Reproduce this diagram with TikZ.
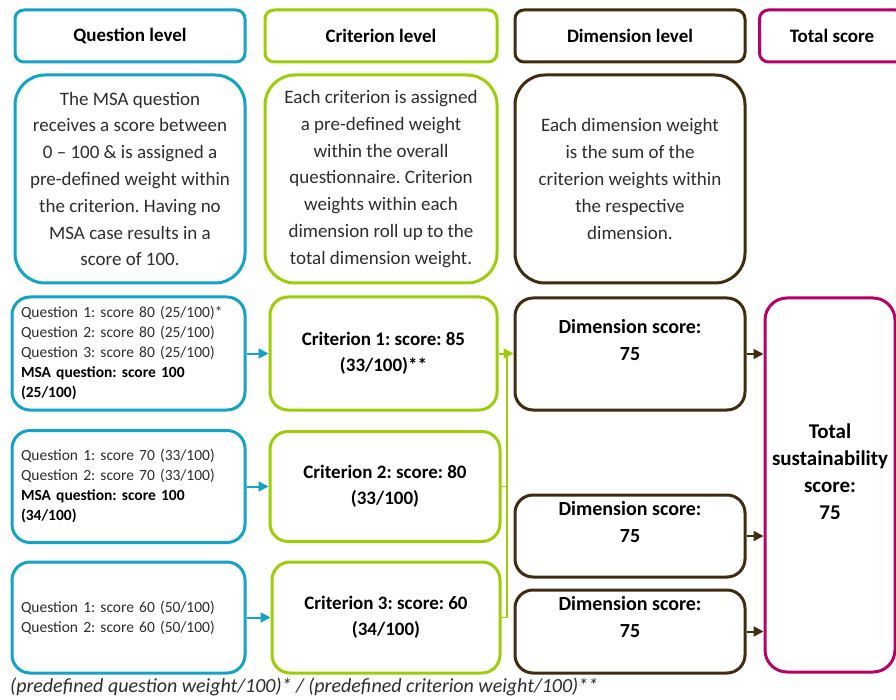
\documentclass[tikz,border=0pt]{standalone}
\usepackage{fontspec}
\setmainfont{Carlito}
\usetikzlibrary{arrows.meta}
\definecolor{qblue}{RGB}{22,162,196}
\definecolor{cgreen}{RGB}{158,204,10}
\definecolor{dbrown}{RGB}{64,44,16}
\definecolor{tmag}{RGB}{180,0,100}
\definecolor{qtext}{RGB}{45,45,45}
\frenchspacing
\begin{document}
\begin{tikzpicture}[x=1pt,y=-1pt,
  hdr/.style={draw, line width=3pt, rounded corners=9pt, inner sep=0pt,
    font=\fontsize{19}{22}\selectfont\bfseries},
  desc/.style={draw, line width=3pt, rounded corners=30pt, inner sep=0pt, align=center,
    font=\fontsize{19}{26.8}\selectfont, text=qtext},
  qbox/.style={draw=qblue, line width=3pt, rounded corners=18pt, inner xsep=9pt, inner ysep=0pt,
    align=left, font=\fontsize{15.5}{20}\selectfont, text=qtext},
  cbox/.style={draw=cgreen, line width=3pt, rounded corners=18pt, inner sep=0pt, align=center,
    font=\fontsize{19}{26.5}\selectfont\bfseries},
  dbox/.style={draw=dbrown, line width=3pt, rounded corners=18pt, inner sep=0pt},
  dtext/.style={align=center, inner sep=0pt, font=\fontsize{20}{27}\selectfont\bfseries},
  qarrow/.style={draw=qblue, line width=2pt, -{Triangle[length=10pt,width=10pt]}},
  carrow/.style={draw=cgreen, line width=2pt, -{Triangle[length=10pt,width=10pt]}},
  gline/.style={draw=cgreen, line width=1.6pt},
  darrow/.style={draw=dbrown, line width=2pt, -{Triangle[length=10pt,width=10pt]}}
]
\useasboundingbox[fill=white] (0,0) rectangle (896,700);

% headers
\node[hdr, draw=qblue, minimum width=230pt, minimum height=52pt] (hq) at (130,36) {Question level};
\node[hdr, draw=cgreen, minimum width=232pt, minimum height=52pt] (hc) at (381,36) {Criterion level};
\node[hdr, draw=dbrown, minimum width=230pt, minimum height=52pt] (hd) at (630,36) {Dimension level};
\node[hdr, draw=tmag, minimum width=145pt, minimum height=52pt] (ht) at (832,36) {Total score};

% descriptions
\node[desc, draw=qblue, minimum width=230pt, minimum height=208pt] (dq) at (130,179)
  {The MSA question\\receives a score between\\0 -- 100 \& is assigned a\\pre-defined weight within\\the criterion. Having no\\MSA case results in a\\score of 100.};
\node[desc, draw=cgreen, minimum width=232pt, minimum height=208pt] (dc) at (381,179)
  {Each criterion is assigned\\a pre-defined weight\\within the overall\\questionnaire. Criterion\\weights within each\\dimension roll up to the\\total dimension weight.};
\node[desc, draw=dbrown, minimum width=230pt, minimum height=208pt] (dd) at (630,179)
  {Each dimension weight\\is the sum of the\\criterion weights within\\the respective\\dimension.};

% question boxes
\node[qbox, minimum width=233pt, minimum height=113pt, text width=215pt] (q1) at (128.5,353.5)
  {Question 1: score 80 (25/100)*\\Question 2: score 80 (25/100)\\Question 3: score 80 (25/100)\\{\bfseries\color{black}MSA question: score 100}\\{\bfseries\color{black}(25/100)}};
\node[qbox, minimum width=233pt, minimum height=112pt, text width=215pt] (q2) at (128.5,486.5)
  {Question 1: score 70 (33/100)\\Question 2: score 70 (33/100)\\{\bfseries\color{black}MSA question: score 100}\\{\bfseries\color{black}(34/100)}};
\node[qbox, minimum width=233pt, minimum height=111pt, text width=215pt] (q3) at (128.5,617.5)
  {Question 1: score 60 (50/100)\\Question 2: score 60 (50/100)};

% criterion boxes
\node[cbox, minimum width=227pt, minimum height=113pt] (c1) at (383.5,353.5)
  {Criterion 1: score: 85\\(33/100)**};
\node[cbox, minimum width=230pt, minimum height=110pt] (c2) at (385,486.5)
  {Criterion 2: score: 80\\(33/100)};
\node[cbox, minimum width=228pt, minimum height=111pt] (c3) at (386,617.5)
  {Criterion 3: score: 60\\(34/100)};

% dimension boxes
\node[dbox, minimum width=230pt, minimum height=112pt] (d1) at (630,354) {};
\node[dtext] (d1t) at (630,340) {Dimension score:\\75};
\node[dbox, minimum width=230pt, minimum height=82pt] (d2) at (630,536) {};
\node[dtext] (d2t) at (630,522) {Dimension score:\\75};
\node[dbox, minimum width=230pt, minimum height=83pt] (d3) at (630,631.5) {};
\node[dtext] (d3t) at (630,617) {Dimension score:\\75};

% total box
\node[draw=tmag, line width=3pt, rounded corners=22pt, minimum width=130pt, minimum height=374pt, inner sep=0pt] (tot) at (830,485) {};
\node[dtext, font=\fontsize{21}{27}\selectfont\bfseries] (tott) at (830,472) {Total\\sustainability\\score:\\75};

% connectors
\draw[qarrow] (q1.east) -- (c1.west);
\draw[qarrow] (q2.east) -- (q2.east -| c2.west);
\draw[qarrow] (q3.east) -- (q3.east -| c3.west);

\coordinate (vx) at (507,0);
\draw[carrow] (c1.east) -- (c1.east -| d1.west);
\draw[gline] (c2.east) -- (c2.east -| vx);
\draw[gline] (c3.east) -- (c3.east -| vx);
\draw[gline] (c1.east -| vx) -- (c3.east -| vx);

\draw[darrow] (d1.east) -- (d1.east -| tot.west);
\draw[darrow] (d2.east) -- (d2.east -| tot.west);
\draw[darrow] (d3.east) -- (d3.east -| tot.west);

% footnote
\node[anchor=west, inner sep=0pt, font=\fontsize{20}{22}\selectfont\itshape, text=qtext] (fn) at (10,687)
  {(predefined question weight/100)* / (predefined criterion weight/100)**};
\end{tikzpicture}
\end{document}
